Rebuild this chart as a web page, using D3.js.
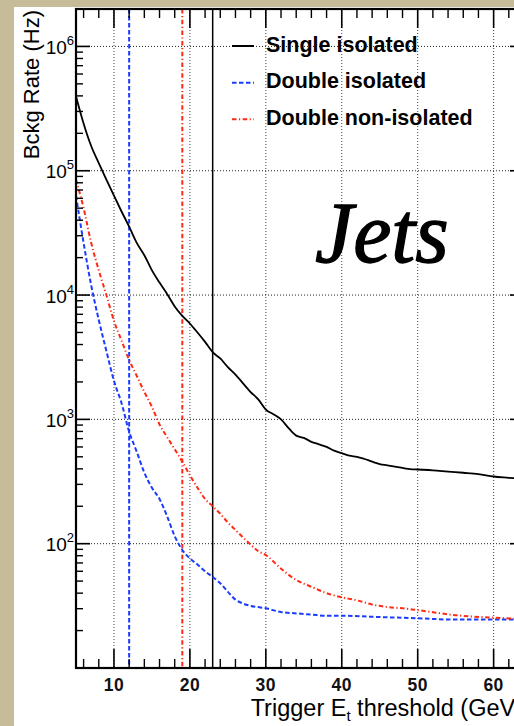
<!DOCTYPE html>
<html>
<head>
<meta charset="utf-8">
<script src="https://cdn.jsdelivr.net/npm/d3@7"></script>
<style>
  html, body { margin: 0; padding: 0; background: #c7bc99; }
  svg { display: block; }
</style>
</head>
<body>
<svg id="chart" width="514" height="726"></svg>
<script>
// ---------------- data ----------------
const seriesNames = ["Single isolated", "Double isolated", "Double non-isolated"];

const singleX = [5,6,7,8,9,10,11,12,13,14,15,16,17,18,19,20,21,22,23,24,25,26,27,28,29,30,31,32,33,34,35,36,37,38,39,40,41,42,43,44,45,46,47,48,49,50,52,54,56,58,60,62,64];
const singleY = [398000,240000,158000,115000,85000,63000,47000,35500,26300,20900,15800,12600,10200,8100,6800,5900,5000,4200,3470,3090,2630,2290,1950,1660,1450,1200,1100,1000,850,740,710,660,630,600,560,535,510,500,480,457,437,427,417,407,398,395,389,380,372,363,347,339,331];

const doubleIsoX = [5,6,7,8,9,10,11,12,13,14,15,16,17,18,19,20,21,22,23,24,25,26,27,28,29,30,32,34,36,38,40,45,50,55,60,64];
const doubleIsoY = [63000,26300,12000,6300,3550,2040,1350,794,550,372,282,229,166,115,89,76,68,60,54,48,41,35.5,33,31.6,30.9,30.2,28.2,27.5,26.9,26.3,26.3,25.7,25.1,24.5,24.5,24.5];

const doubleNonIsoX = [5,6,7,8,9,10,11,12,13,14,15,16,17,18,19,20,21,22,23,24,25,26,27,28,29,30,32,34,36,38,40,42,44,46,48,50,55,60,64];
const doubleNonIsoY = [85000,50000,26300,15800,10000,6200,4300,3000,2240,1660,1260,910,720,575,457,355,282,229,200,174,148,129,112,98,87,81,63,51,45,40,37,35,32.4,30.9,30.2,29.2,26.6,25.4,24.8];

// trigger thresholds (GeV): single isolated, double isolated, double non-isolated
const thresholds = [23, 12, 19];

const xMajorTicks = [10,20,30,40,50,60];
const yDecadeTicks = [1e2,1e3,1e4,1e5,1e6];
const yTickExponents = ["2","3","4","5","6"];

const xTitle = "Trigger E";
const xTitleSub = "t";
const xTitleRest = " threshold (GeV)";
const yTitle = "Bckg Rate (Hz)";
const bigLabel = "Jets";

// ---------------- layout / style ----------------
const colors = ["#000000", "#1a3cff", "#ff2a14"];
const dashes = [null, "4.5,2.5", "4.5,2.5,1.2,2.5"];
const font = "'Liberation Sans', Arial, Helvetica, sans-serif";

const svg = d3.select("#chart");
const W = 514, H = 726;

const plot = {left: 76, right: 524, top: 9, bottom: 668};

const x = d3.scaleLinear().domain([5, 64]).range([plot.left, plot.right]);
const y = d3.scaleLog().domain([10, 2e6]).range([plot.bottom, plot.top]);

// background
svg.append("rect").attr("width", W).attr("height", H).attr("fill", "#c7bc99");
svg.append("rect").attr("x", 14).attr("y", 7).attr("width", W - 14).attr("height", H - 7).attr("fill", "#ffffff");

svg.append("defs").append("clipPath").attr("id", "clip")
  .append("rect").attr("x", plot.left).attr("y", plot.top)
  .attr("width", plot.right - plot.left).attr("height", plot.bottom - plot.top);

// grid
const grid = svg.append("g");
grid.selectAll("line.gx").data(xMajorTicks).join("line")
  .attr("x1", d => x(d)).attr("x2", d => x(d))
  .attr("y1", plot.top).attr("y2", plot.bottom)
  .attr("stroke", "#444").attr("stroke-width", 1).attr("stroke-dasharray", "1,2");
grid.selectAll("line.gy").data(yDecadeTicks).join("line")
  .attr("x1", plot.left).attr("x2", plot.right)
  .attr("y1", d => y(d)).attr("y2", d => y(d))
  .attr("stroke", "#222").attr("stroke-width", 1).attr("stroke-dasharray", "1,2");

// curves
const g = svg.append("g").attr("clip-path", "url(#clip)");
const lineGen = d3.line().x(d => x(d[0])).y(d => y(d[1])).curve(d3.curveMonotoneX);
const seriesData = [
  d3.zip(singleX, singleY),
  d3.zip(doubleIsoX, doubleIsoY),
  d3.zip(doubleNonIsoX, doubleNonIsoY)
];

// threshold lines
thresholds.forEach((t, i) => {
  g.append("line")
    .attr("x1", x(t)).attr("x2", x(t))
    .attr("y1", plot.top).attr("y2", plot.bottom)
    .attr("stroke", colors[i]).attr("stroke-width", i === 0 ? 1.5 : 2)
    .attr("stroke-dasharray", dashes[i]);
});

seriesData.forEach((d, i) => {
  g.append("path").datum(d)
    .attr("d", lineGen)
    .attr("fill", "none")
    .attr("stroke", colors[i])
    .attr("stroke-width", i === 0 ? 1.8 : 2)
    .attr("stroke-dasharray", dashes[i]);
});

// axes: ROOT-style inward ticks built from scales
const axes = svg.append("g");
const xMinor = d3.range(6, 65, 2).filter(v => !xMajorTicks.includes(v));
[[plot.bottom, -1], [plot.top, 1]].forEach(([yy, dir]) => {
  axes.selectAll(null).data(xMajorTicks).join("line")
    .attr("x1", d => x(d)).attr("x2", d => x(d))
    .attr("y1", yy).attr("y2", yy + dir * 19)
    .attr("stroke", "#000").attr("stroke-width", 1.6);
  axes.selectAll(null).data(xMinor).join("line")
    .attr("x1", d => x(d)).attr("x2", d => x(d))
    .attr("y1", yy).attr("y2", yy + dir * 9)
    .attr("stroke", "#000").attr("stroke-width", 1.4);
});
const yMinor = [];
[10,100,1000,1e4,1e5,1e6].forEach(dec => {
  for (let k = 2; k <= 9; k++) { const v = dec * k; if (v <= 2e6) yMinor.push(v); }
});
[[plot.left, 1], [plot.right, -1]].forEach(([xx, dir]) => {
  axes.selectAll(null).data(yDecadeTicks).join("line")
    .attr("x1", xx).attr("x2", xx + dir * 14)
    .attr("y1", d => y(d)).attr("y2", d => y(d))
    .attr("stroke", "#000").attr("stroke-width", 1.6);
  axes.selectAll(null).data(yMinor).join("line")
    .attr("x1", xx).attr("x2", xx + dir * 7)
    .attr("y1", d => y(d)).attr("y2", d => y(d))
    .attr("stroke", "#000").attr("stroke-width", 1.4);
});
axes.append("rect")
  .attr("x", plot.left).attr("y", plot.top)
  .attr("width", plot.right - plot.left).attr("height", plot.bottom - plot.top)
  .attr("fill", "none").attr("stroke", "#000").attr("stroke-width", 2.2);

// x tick labels
axes.selectAll("text.xl").data(xMajorTicks).join("text")
  .attr("x", d => x(d)).attr("y", plot.bottom + 23)
  .attr("text-anchor", "middle")
  .attr("font-family", font).attr("font-size", 17.5).attr("font-weight", "bold")
  .attr("letter-spacing", 0.5)
  .attr("fill", "#111")
  .text(d => d);

// y tick labels
yDecadeTicks.forEach((d, i) => {
  const t = axes.append("text")
    .attr("x", plot.left - 2).attr("y", y(d) + 7.5)
    .attr("text-anchor", "end")
    .attr("font-family", font).attr("font-size", 19).attr("fill", "#000");
  t.append("tspan").text("10");
  t.append("tspan").attr("dy", -9).attr("font-size", 13).text(yTickExponents[i]);
});

// axis titles
const xt = svg.append("text")
  .attr("x", plot.right - 1).attr("y", 716)
  .attr("text-anchor", "end")
  .attr("font-family", font).attr("font-size", 23.5).attr("fill", "#000");
xt.append("tspan").text(xTitle);
xt.append("tspan").attr("dy", 5).attr("font-size", 15).text(xTitleSub);
xt.append("tspan").attr("dy", -5).text(xTitleRest);

svg.append("text")
  .attr("transform", `translate(38.5, 10) rotate(-90)`)
  .attr("text-anchor", "end")
  .attr("font-family", font).attr("font-size", 22).attr("fill", "#000")
  .text(yTitle);

// legend
const legY = [46, 82.7, 119.3];
seriesNames.forEach((name, i) => {
  svg.append("line")
    .attr("x1", 232).attr("x2", 254)
    .attr("y1", legY[i]).attr("y2", legY[i])
    .attr("stroke", colors[i]).attr("stroke-width", 2)
    .attr("stroke-dasharray", dashes[i]);
  svg.append("text")
    .attr("x", 266).attr("y", legY[i] + 5.5)
    .attr("font-family", font).attr("font-size", 21.5).attr("font-weight", "bold")
    .attr("fill", "#000")
    .text(name);
});

// big label
svg.append("text")
  .attr("x", 315).attr("y", 262)
  .attr("font-family", "'Liberation Serif', 'Times New Roman', serif")
  .attr("font-style", "italic")
  .attr("font-size", 86)
  .attr("fill", "#000")
  .attr("stroke", "#000").attr("stroke-width", 1.3)
  .text(bigLabel);
</script>
</body>
</html>
